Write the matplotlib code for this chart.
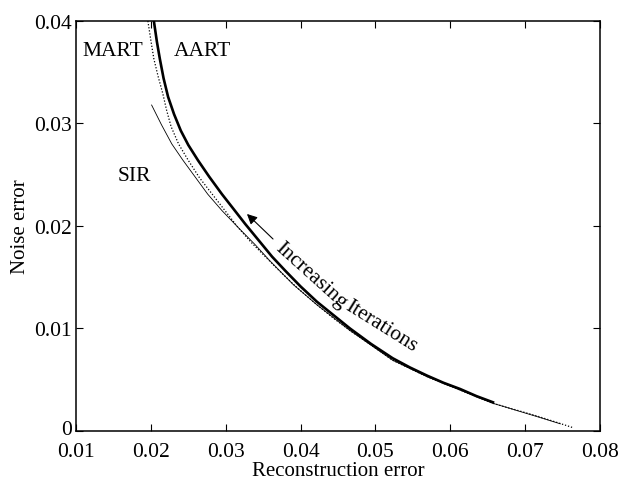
import numpy as np
import matplotlib
matplotlib.use("Agg")
import matplotlib.pyplot as plt
import matplotlib.transforms as mtransforms

plt.rcParams['font.family'] = ['Liberation Serif', 'DejaVu Serif']

# AART (thick solid)
aart_x = [0.0204, 0.0208, 0.0212, 0.0217, 0.0223, 0.0231, 0.0240, 0.0250,
          0.0263, 0.0278, 0.0295, 0.0310, 0.0326, 0.0344, 0.0362, 0.0380,
          0.0400, 0.0422, 0.0444, 0.0466, 0.0494, 0.0523, 0.0546, 0.0569,
          0.0591, 0.0613, 0.0635, 0.0657]
aart_y = [0.0400, 0.0380, 0.0363, 0.0344, 0.0326, 0.0309, 0.0293, 0.0279,
          0.0264, 0.0248, 0.0231, 0.0217, 0.0202, 0.0186, 0.0170, 0.0156,
          0.0141, 0.0126, 0.0113, 0.0100, 0.0085, 0.0071, 0.0062, 0.0054,
          0.0047, 0.0041, 0.0034, 0.0028]

# MART (dotted)
mart_x = [0.0196, 0.0200, 0.0204, 0.0210, 0.0216, 0.0221, 0.0227, 0.0237,
          0.0250, 0.0265, 0.0282, 0.0299, 0.0316, 0.0334, 0.0353, 0.0372,
          0.0395, 0.0422, 0.0444, 0.0466, 0.0494, 0.0523, 0.0569, 0.0613,
          0.0657, 0.0716, 0.0765]
mart_y = [0.0400, 0.0381, 0.0363, 0.0345, 0.0329, 0.0313, 0.0297, 0.0280,
          0.0264, 0.0247, 0.0231, 0.0215, 0.0199, 0.0184, 0.0170, 0.0156,
          0.0140, 0.0123, 0.0110, 0.0098, 0.0084, 0.0069, 0.0053, 0.0040,
          0.0027, 0.00146, 0.0003]

# SIR (thin solid)
sir_x = [0.0201, 0.0214, 0.0228, 0.0243, 0.0259, 0.0276, 0.0295, 0.0316,
         0.0339, 0.0359, 0.0390, 0.0422, 0.0466, 0.0523, 0.0569, 0.0613,
         0.0657, 0.0716, 0.0747]
sir_y = [0.0318, 0.0299, 0.0280, 0.0264, 0.0248, 0.0231, 0.0215, 0.0199,
         0.0182, 0.0166, 0.0143, 0.0123, 0.0098, 0.0069, 0.0053, 0.0040,
         0.0027, 0.0014, 0.0007]

xticks = [0.01, 0.02, 0.03, 0.04, 0.05, 0.06, 0.07, 0.08]
xtick_labels = ['0.01', '0.02', '0.03', '0.04', '0.05', '0.06', '0.07', '0.08']
yticks = [0, 0.01, 0.02, 0.03, 0.04]
ytick_labels = ['0', '0.01', '0.02', '0.03', '0.04']

fig = plt.figure(figsize=(6.19, 4.81), dpi=100)
ax = fig.add_axes([0.1228, 0.1019, 0.8465, 0.8524])

ax.plot(mart_x, mart_y, color='k', lw=0.9, linestyle=(0, (1, 1.5)))
ax.plot(sir_x, sir_y, color='k', lw=0.6)
ax.plot(aart_x, aart_y, color='k', lw=1.9, solid_joinstyle='round')

ax.set_xlim(0.01, 0.08)
ax.set_ylim(0, 0.04)
ax.set_xticks(xticks)
ax.set_xticklabels(xtick_labels)
ax.set_yticks(yticks)
ax.set_yticklabels(ytick_labels)
ax.tick_params(direction='in', length=5, width=0.8, labelsize=15.5,
               top=True, right=True)
ax.tick_params(axis='x', pad=8)
ax.tick_params(axis='y', pad=3)
for s in ax.spines.values():
    s.set_linewidth(1.1)

# lift the "0" on the y axis a little so it clears the "0.01" below it
lbl0 = ax.get_yticklabels()[0]
lbl0.set_transform(lbl0.get_transform() +
                   mtransforms.ScaledTranslation(0, 3 / 72, fig.dpi_scale_trans))

ax.set_xlabel('Reconstruction error', fontsize=15, labelpad=0)
ax.set_ylabel('Noise error', fontsize=15, labelpad=3)

ax.text(0.01494, 0.0371, 'MART', fontsize=15.5, ha='center', va='center')
ax.text(0.02683, 0.0371, 'AART', fontsize=15.5, ha='center', va='center')
ax.text(0.01775, 0.0249, 'SIR', fontsize=15.5, ha='center', va='center')

ax.text(0.04139, 0.01522, 'Increasing', fontsize=15.5, ha='center', va='center',
        rotation=-42, rotation_mode='anchor')
ax.text(0.05074, 0.01024, 'Iterations', fontsize=15.5, ha='center', va='center',
        rotation=-32, rotation_mode='anchor')

ax.annotate('', xy=(0.03284, 0.02117), xytext=(0.03632, 0.01873),
            arrowprops=dict(arrowstyle='-|>', color='k', lw=0.8,
                            mutation_scale=15, shrinkA=0, shrinkB=0))

fig.savefig('out.png', dpi=100)
